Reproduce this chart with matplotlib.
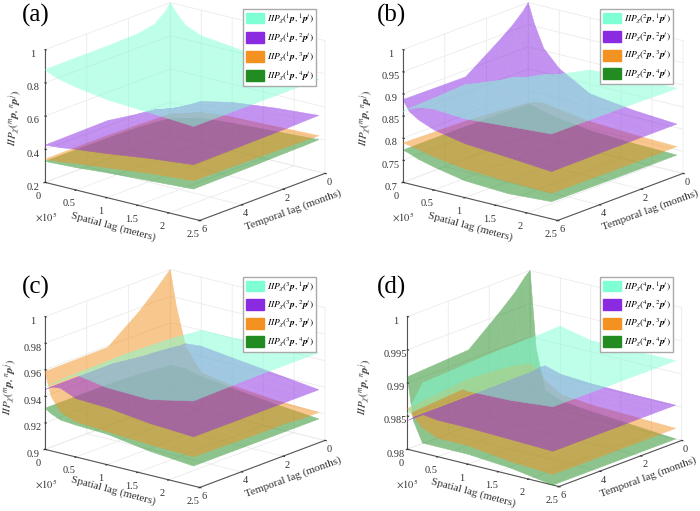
from matplotlib import pyplot as plt
from matplotlib.patches import Patch
import numpy as np

plt.rcParams['font.family'] = 'Liberation Serif'
plt.rcParams['mathtext.fontset'] = 'stix'

# lags at which the surfaces were read (spatial in 1e5 m, temporal in months)
spatial_lag = [0, 0.1, 0.25, 0.5, 1, 1.7, 2.4]
temporal_lag = [0, 0.25, 0.75, 1.5, 3, 6]

a_1 = [[1.00, .945, .885, .845, .825, .79, .757], [.955, .925, .88, .843, .822, .788, .757],
       [.905, .89, .865, .84, .82, .785, .757], [.885, .875, .855, .835, .815, .78, .757],
       [.88, .865, .85, .83, .81, .78, .757], [.879, .86, .84, .82, .79, .775, .757]]
a_2 = [[.36, .375, .40, .45, .49, .52, .54], [.37, .38, .405, .45, .49, .52, .54],
       [.39, .40, .415, .45, .488, .518, .538], [.40, .41, .42, .45, .485, .515, .535],
       [.43, .43, .435, .45, .48, .51, .532], [.424, .428, .432, .445, .465, .50, .527]]
a_3 = [[.33, .34, .355, .385, .40, .41, .418], [.33, .34, .355, .382, .40, .41, .419],
       [.332, .34, .355, .378, .398, .41, .42], [.335, .342, .352, .375, .395, .41, .422],
       [.34, .345, .352, .37, .39, .41, .425], [.34, .342, .347, .36, .38, .41, .43]]
a_4 = [[.30, .31, .325, .35, .365, .38, .394], [.305, .312, .325, .347, .362, .38, .393],
       [.312, .318, .327, .343, .358, .378, .391], [.32, .322, .328, .34, .355, .375, .39],
       [.325, .327, .33, .34, .355, .37, .385], [.327, .328, .331, .335, .35, .365, .38]]

b_1 = [[.775, .80, .83, .855, .882, .886, .889], [.79, .81, .835, .858, .882, .886, .889],
       [.82, .835, .85, .867, .882, .886, .889], [.844, .855, .865, .875, .882, .886, .89],
       [.868, .872, .876, .88, .882, .886, .891], [.86, .87, .878, .883, .878, .885, .892]]
b_2 = [[1.0, .955, .905, .868, .828, .815, .808], [.985, .945, .90, .865, .827, .815, .808],
       [.962, .925, .885, .858, .826, .815, .808], [.935, .905, .87, .85, .825, .815, .808],
       [.885, .88, .855, .84, .824, .815, .808], [.887, .864, .85, .836, .822, .815, .807]]
b_3 = [[.772, .778, .781, .775, .765, .76, .757], [.774, .779, .781, .775, .765, .76, .757],
       [.776, .78, .782, .775, .765, .76, .757], [.78, .781, .782, .775, .765, .76, .757],
       [.785, .784, .782, .775, .765, .76, .757], [.789, .787, .783, .775, .765, .76, .758]]
b_4 = [[.77, .768, .762, .755, .745, .74, .738], [.77, .768, .762, .755, .745, .74, .738],
       [.771, .768, .762, .755, .744, .739, .738], [.772, .769, .762, .755, .743, .738, .738],
       [.773, .769, .762, .754, .741, .736, .738], [.773, .769, .761, .752, .738, .733, .739]]

c_1 = [[.928, .937, .95, .960, .96, .962, .965], [.932, .94, .952, .96, .96, .962, .965],
       [.937, .944, .954, .961, .96, .962, .965], [.942, .947, .955, .962, .96, .961, .965],
       [.948, .95, .956, .963, .96, .96, .965], [.947, .95, .955, .962, .958, .957, .964]]
c_2 = [[.928, .937, .947, .948, .945, .941, .937], [.93, .938, .947, .948, .945, .941, .937],
       [.935, .941, .948, .947, .945, .941, .937], [.94, .945, .949, .946, .944, .94, .937],
       [.945, .948, .95, .945, .944, .94, .937], [.945, .948, .949, .944, .943, .939, .937]]
c_3 = [[1.0, .973, .945, .928, .924, .921, .92], [.996, .97, .943, .928, .924, .921, .92],
       [.988, .965, .94, .928, .925, .921, .92], [.977, .958, .937, .927, .925, .922, .921],
       [.959, .948, .934, .927, .925, .922, .921], [.9586, .941, .931, .9265, .925, .923, .922]]
c_4 = [[.928, .928, .928, .925, .922, .918, .915], [.928, .928, .928, .925, .922, .918, .915],
       [.929, .928, .928, .925, .922, .918, .915], [.93, .929, .927, .925, .922, .918, .915],
       [.931, .929, .927, .924, .923, .918, .915], [.931, .928, .925, .924, .923, .918, .915]]

d_1 = [[.984, .9865, .9905, .9927, .9917, .9917, .9918], [.984, .9865, .9905, .9927, .9917, .9916, .9918],
       [.9845, .987, .9905, .9926, .9917, .9916, .9918], [.985, .9875, .991, .9926, .9916, .9915, .9918],
       [.986, .988, .991, .9925, .9915, .9915, .9918], [.9853, .9875, .9905, .992, .991, .9912, .9918]]
d_2 = [[.984, .985, .9862, .9855, .9852, .9851, .9851], [.984, .985, .9862, .9855, .9852, .9851, .9851],
       [.984, .985, .986, .9855, .9853, .9851, .9851], [.9842, .985, .986, .9855, .9854, .9852, .9851],
       [.9843, .985, .9859, .9855, .9855, .9852, .9851], [.9843, .985, .9858, .9855, .9855, .9853, .9851]]
d_3 = [[.986, .9855, .984, .9825, .982, .9818, .9816], [.9861, .9855, .984, .9825, .9821, .9818, .9816],
       [.9865, .9855, .984, .9826, .9823, .9818, .9816], [.9868, .9857, .984, .9827, .9824, .9819, .9816],
       [.9871, .9857, .984, .9828, .9826, .982, .9816], [.9861, .9852, .9838, .9828, .9828, .982, .9816]]
d_4 = [[1.0, .9885, .9825, .9815, .981, .9805, .98], [.9993, .988, .9825, .9815, .981, .9805, .98],
       [.9975, .987, .9825, .9815, .981, .9805, .98], [.9954, .986, .9825, .9815, .9812, .9806, .98],
       [.9915, .985, .982, .9815, .9813, .9808, .98], [.9909, .9845, .9815, .9815, .9815, .981, .98]]

panel_surfaces = [[a_1, a_2, a_3, a_4], [b_1, b_2, b_3, b_4], [c_1, c_2, c_3, c_4], [d_1, d_2, d_3, d_4]]
panel_names = ['(a)', '(b)', '(c)', '(d)']
z_ticks = [[0.2, 0.4, 0.6, 0.8, 1], [0.7, 0.75, 0.8, 0.85, 0.9, 0.95, 1],
           [0.9, 0.92, 0.94, 0.96, 0.98, 1], [0.98, 0.985, 0.99, 0.995, 1]]
z_labels = [['0.2', '0.4', '0.6', '0.8', '1'], ['0.7', '0.75', '0.8', '0.85', '0.9', '0.95', '1'],
            ['0.9', '0.92', '0.94', '0.96', '0.98', '1'], ['0.98', '0.985', '0.99', '0.995', '1']]
x_ticks = [0, 0.5, 1, 1.5, 2, 2.5]
x_labels = ['0', '0.5', '1', '1.5', '2', '2.5']
y_ticks = [0, 2, 4, 6]
colors = ['#7fffd4', '#8a2be2', '#f39221', '#228b22']

W, H = 700, 511
fig = plt.figure(figsize=(7, 5.11), dpi=100)
side = 305

# pixel centre of each 3d box, and of the other bits, from the reference
centers = [(185, 111.5), (543, 111.5), (185, 378.5), (544.5, 378.5)]
box_aspects = [(1, 1, 0.7), (1, 1, 0.7), (1, 1, 0.7), (0.98, 0.98, 0.7)]
box_zooms = [1, 1, 1, 0.9835]
legend_xy = [(243, 9), (600, 9), (243, 277), (600, 277)]
name_xy = [(22, 15), (377, 15), (22, 287), (377, 287)]
power_xy = [(35, 217), (392, 217), (35, 484), (396, 484)]
spatial_xy = [(113, 227), (470, 227), (113, 491), (473, 493)]
temporal_xy = [(293, 210), (650, 210), (293, 477), (648, 477)]
zlabel_xy = [(15, 118), (366, 118), (10, 387), (365, 387)]


# whole surface fades as one layer, so its quads do not show as seams
def half_opaque(img, dpi):
    img = img.copy()
    img[..., 3] *= 0.72
    return img, 0, 0


S, T = np.meshgrid(spatial_lag, temporal_lag)

for i in range(4):
    cx, cy = centers[i]
    left = cx - 0.5135 * side
    bottom = H - (cy + 0.5135 * side)
    ax = fig.add_axes([left / W, bottom / H, side / W, side / H], projection='3d')
    ax.patch.set_alpha(0)
    ax.set_proj_type('ortho')
    ax.view_init(elev=17.7, azim=-51)
    ax.set_box_aspect(box_aspects[i], zoom=box_zooms[i])
    ax.computed_zorder = False

    # lowest surface first, so the top ones blend over it
    for k in [3, 2, 1, 0]:
        surf = ax.plot_surface(S, T, np.array(panel_surfaces[i][k]), color=colors[k], edgecolor=colors[k],
                               shade=False, linewidth=0.4, zorder=4 - k)
        surf.set_agg_filter(half_opaque)

    ax.set_xlim(0, 2.5, view_margin=0)
    ax.set_ylim(6, 0, view_margin=0)
    ax.set_zlim(z_ticks[i][0], z_ticks[i][-1], view_margin=0)
    ax.set_xticks(x_ticks, x_labels)
    ax.set_yticks(y_ticks, [str(v) for v in y_ticks])
    ax.set_zticks(z_ticks[i], z_labels[i])
    ax.zaxis.set_ticks_position('upper')
    ax.tick_params(labelsize=7.5, colors='#333333')
    ax.tick_params(axis='x', pad=-2)
    ax.tick_params(axis='y', pad=-5)
    ax.tick_params(axis='z', pad=-3)
    for label in ax.get_yticklabels():
        label.set_va('top')

    for axis in [ax.xaxis, ax.yaxis, ax.zaxis]:
        axis.set_pane_color((1, 1, 1, 0))
        axis.pane.set_edgecolor('#ebebeb')
        axis.line.set_color('#555555')
        axis._axinfo['grid']['color'] = '#ebebeb'
        axis._axinfo['grid']['linewidth'] = 0.6
        axis._axinfo['tick']['outward_factor'] = 0
        axis._axinfo['tick']['inward_factor'] = 0.1

    m = i + 1
    handles = [Patch(facecolor=colors[k], edgecolor=colors[k]) for k in range(4)]
    labels = [r'$\mathit{IIP}_{\chi}(^{%d}\mathbfit{p},^{%d}\mathbfit{p}^{j})$' % (m, k + 1) for k in range(4)]
    lx, ly = legend_xy[i]
    fig.legend(handles, labels, loc='upper left', bbox_to_anchor=(lx / W, 1 - ly / H), fontsize=6.8,
               fancybox=False, framealpha=1, edgecolor='#aaaaaa', borderpad=0.3, labelspacing=0.55,
               handlelength=1.9, handleheight=1.4, handletextpad=0.3, borderaxespad=0)

    nx, ny = name_xy[i]
    fig.text(nx / W, 1 - ny / H, panel_names[i], fontsize=18, va='center')
    px, py = power_xy[i]
    fig.text(px / W, 1 - py / H, r'$\times 10^{5}$', fontsize=7.5, va='center', color='#333333')

    sx, sy = spatial_xy[i]
    fig.text(sx / W, 1 - sy / H, 'Spatial lag (meters)', fontsize=8, rotation=-15, ha='center', va='center',
             rotation_mode='anchor', color='#333333')
    tx, ty = temporal_xy[i]
    fig.text(tx / W, 1 - ty / H, 'Temporal lag (months)', fontsize=8, rotation=20, ha='center', va='center',
             rotation_mode='anchor', color='#333333')
    zx, zy = zlabel_xy[i]
    fig.text(zx / W, 1 - zy / H, r'$\mathit{IIP}_{\chi}(^{m}\mathbfit{p},^{n}\mathbfit{p}^{j})$', fontsize=8,
             rotation=86, ha='center', va='center', rotation_mode='anchor', color='#333333')

fig.savefig('out.png', dpi=100)
